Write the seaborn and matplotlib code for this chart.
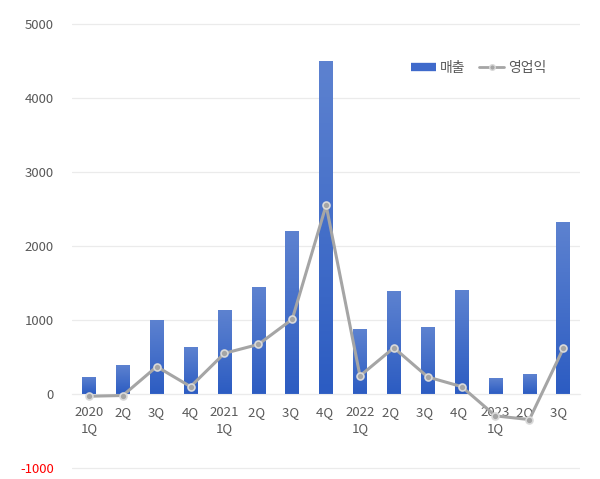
import matplotlib
matplotlib.use("Agg")
import matplotlib.pyplot as plt
import numpy as np
import pandas as pd
import seaborn as sns
from matplotlib.colors import LinearSegmentedColormap
from matplotlib.lines import Line2D

# quarterly figures
quarters = ["2020\n1Q", "2Q", "3Q", "4Q", "2021\n1Q", "2Q ", "3Q ", "4Q ",
            "2022\n1Q", "2Q  ", "3Q  ", "4Q  ", "2023\n1Q", "2Q   ", "3Q   "]
sales = [230, 390, 1000, 630, 1130, 1440, 2200, 4500,
         875, 1380, 905, 1400, 210, 265, 2315]
op_profit = [-35, -25, 365, 95, 545, 665, 1005, 2545,
             240, 620, 225, 95, -300, -350, 610]
y_ticks = [-1000, 0, 1000, 2000, 3000, 4000, 5000]

df = pd.DataFrame({"quarter": quarters, "sales": sales, "op": op_profit})

sns.set_style("white")
plt.rcParams["font.family"] = ["Noto Sans CJK KR", "DejaVu Sans"]

text_color = "#595959"
fig = plt.figure(figsize=(6, 4.79), dpi=100)
ax = fig.add_axes([0.12, 0.019, 0.847, 0.935])

sns.barplot(data=df, x="quarter", y="sales", color="#3f6acb",
            width=0.4, ax=ax, zorder=2)

# vertical gradient on the bars
grad = LinearSegmentedColormap.from_list("g", ["#2c5cc2", "#5d82d0"])
for bar in ax.patches:
    x0, y0 = bar.get_x(), bar.get_y()
    w, h = bar.get_width(), bar.get_height()
    img = ax.imshow(np.linspace(0, 1, 100).reshape(-1, 1), cmap=grad,
                    origin="lower", aspect="auto",
                    extent=[x0, x0 + w, y0, y0 + h], zorder=2)
    img.set_clip_path(bar)
    bar.set_facecolor("none")
    bar.set_edgecolor("none")

sns.pointplot(data=df, x="quarter", y="op", color="#a5a5a5",
              markers="o", markersize=5, linewidth=2.2,
              markeredgecolor="#d9d9d9", markeredgewidth=1.2,
              ax=ax, zorder=3)

ax.set_xlim(-0.5, len(quarters) - 0.5)
ax.set_ylim(-1030, 5020)
ax.set_yticks(y_ticks)
ax.set_yticklabels([str(v) for v in y_ticks])
ax.grid(axis="y", color="#ebebeb", linewidth=0.9, zorder=0)
ax.set_axisbelow(True)
for s in ["top", "right", "left"]:
    ax.spines[s].set_visible(False)
ax.spines["bottom"].set_position(("data", 0))
ax.spines["bottom"].set_color("#ebebeb")
ax.tick_params(axis="y", length=0, pad=13, labelsize=9.5, labelcolor=text_color)
ax.tick_params(axis="x", length=0, pad=9, labelsize=9.5, labelcolor=text_color)
for lbl in ax.get_xticklabels():
    lbl.set_linespacing(1.3)
ax.get_yticklabels()[0].set_color("#ff0000")
ax.set_xlabel("")
ax.set_ylabel("")

handles = [
    Line2D([0], [0], color="#3f6acb", linewidth=6, solid_capstyle="butt"),
    Line2D([0], [0], color="#a5a5a5", linewidth=2, marker="o", markersize=4,
           markeredgecolor="#d9d9d9"),
]
fig.legend(handles, ["매출", "영업익"], ncol=2, frameon=False,
           loc="center", bbox_to_anchor=(0.798, 0.858),
           fontsize=10, labelcolor=text_color, handlelength=1.8,
           handletextpad=0.3, columnspacing=1.0)

fig.savefig("out.png", dpi=100)
